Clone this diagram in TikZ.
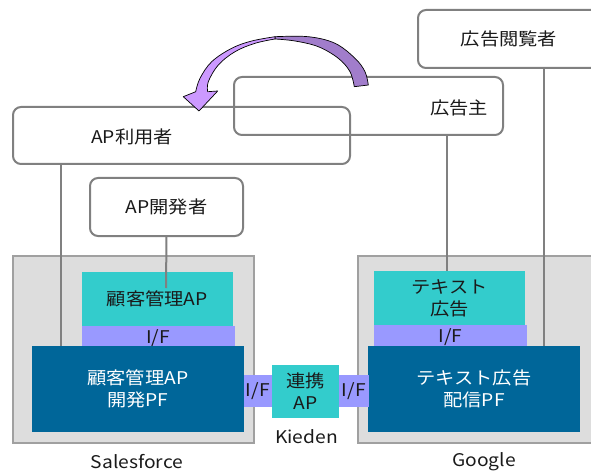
\documentclass[tikz,border=0pt]{standalone}
\usepackage{fontspec}
\setmainfont[FakeStretch=1.1]{Noto Sans CJK JP}
\usetikzlibrary{calc}

\definecolor{linegray}{HTML}{808080}
\definecolor{bggray}{HTML}{DDDDDD}
\definecolor{bgedge}{HTML}{A0A0A0}
\definecolor{apteal}{HTML}{33CCCC}
\definecolor{ifpurple}{HTML}{9999FF}
\definecolor{pfblue}{HTML}{006699}
\definecolor{textdark}{HTML}{1A1A1A}
\definecolor{arrowlight}{HTML}{CC99FF}
\definecolor{arrowdark}{HTML}{A17DCB}

\begin{document}
\begin{tikzpicture}[x=1pt,y=-1pt,
  font=\fontsize{17.5}{22}\selectfont,
  every node/.style={inner sep=0pt, outer sep=0pt, text=textdark},
  actor/.style={draw=linegray, line width=2pt, rounded corners=8pt},
  platform/.style={fill=bggray, draw=bgedge, line width=2pt},
  apbox/.style={fill=apteal, align=center},
  ifbox/.style={fill=ifpurple, align=center},
  pfbox/.style={fill=pfblue, align=center, text=white},
  wire/.style={draw=linegray, line width=2pt},
  caption/.style={text=textdark}]

\clip (0,0) rectangle (591,473);

% people / roles
\node[actor, minimum width=182, minimum height=58] (viewer) at (509,39) {広告閲覧者};
\node[actor, minimum width=269, minimum height=58] (adv) at (368.5,106) {};
\node (advlbl) at (459,108) {広告主};
\node[actor, minimum width=337, minimum height=57] (user) at (181.5,135.5) {};
\node (userlbl) at (132,137) {AP利用者};
\node[actor, minimum width=153, minimum height=58] (dev) at (166.5,207) {AP開発者};

% platforms
\node[platform, minimum width=241, minimum height=187] (sfbg) at (133,349.5) {};
\node[platform, minimum width=252, minimum height=187] (ggbg) at (484,349.5) {};
\node[caption] (sflbl) at (137,462) {Salesforce};
\node[caption] (gglbl) at (484,462) {Google};

% Salesforce stack
\node[apbox, minimum width=150.5, minimum height=54] (sfap) at (157.25,299) {顧客管理AP};
\node[ifbox, minimum width=152.5, minimum height=24] (sfif) at (158.25,338) {I/F};
\node[pfbox, minimum width=211.5, minimum height=86] (sfpf) at (137.75,389) {顧客管理AP\\開発PF};

% Google stack
\node[apbox, minimum width=150.7, minimum height=54] (ggap) at (449.35,298) {テキスト\\広告};
\node[ifbox, minimum width=152.6, minimum height=24] (ggif) at (450.3,337) {I/F};
\node[pfbox, minimum width=212, minimum height=86] (ggpf) at (474,389) {テキスト広告\\配信PF};

% linking application between the two platforms
\node[ifbox, minimum width=28.5, minimum height=32] (lif) at (257.75,391) {I/F};
\node[ifbox, minimum width=29.6, minimum height=32] (rif) at (353.8,391) {I/F};
\node[apbox, minimum width=67, minimum height=53] (link) at (305.5,391.5) {連携\\AP};
\node[caption] (kieden) at (306.5,437) {Kieden};

% role-to-system wires
\coordinate (devend) at (166,288);
\draw[wire] ([xshift=48pt]user.south west) -- ([xshift=48pt]user.south west |- sfpf.north);
\draw[wire] (dev.south) -- (devend);
\draw[wire] (adv.south -| 447,0) -- (ggap.north -| 447,0);
\draw[wire] (viewer.south -| 543.5,0) -- (ggpf.north -| 543.5,0);

% curved arrow from the advertiser back to the AP user
\filldraw[fill=arrowdark, draw=black, line width=0.7pt, line join=round]
  plot[smooth, tension=0.6] coordinates {(368.3,85) (365,71.7) (355,58.3) (335,43.3) (308.3,36.7) (275,36.7)}
  -- plot[smooth, tension=0.6] coordinates {(275,39) (295,41) (318.3,46.7) (338.3,58.3) (350,71.7) (354.3,86.7)}
  -- cycle;
\filldraw[fill=arrowlight, draw=black, line width=0.7pt, line join=round]
  plot[smooth, tension=0.6] coordinates {(275,36.7) (251.7,41) (231.7,48.3) (211.7,61.7) (200,78.3) (195.7,91.7)}
  -- (183.3,96.7) -- (199,111) -- (217.7,91)
  -- plot[smooth, tension=0.6] coordinates {(207.7,91.7) (208.3,81.7) (218.3,65) (235,51.7) (255,43.3) (275,39)}
  -- cycle;
\end{tikzpicture}
\end{document}
